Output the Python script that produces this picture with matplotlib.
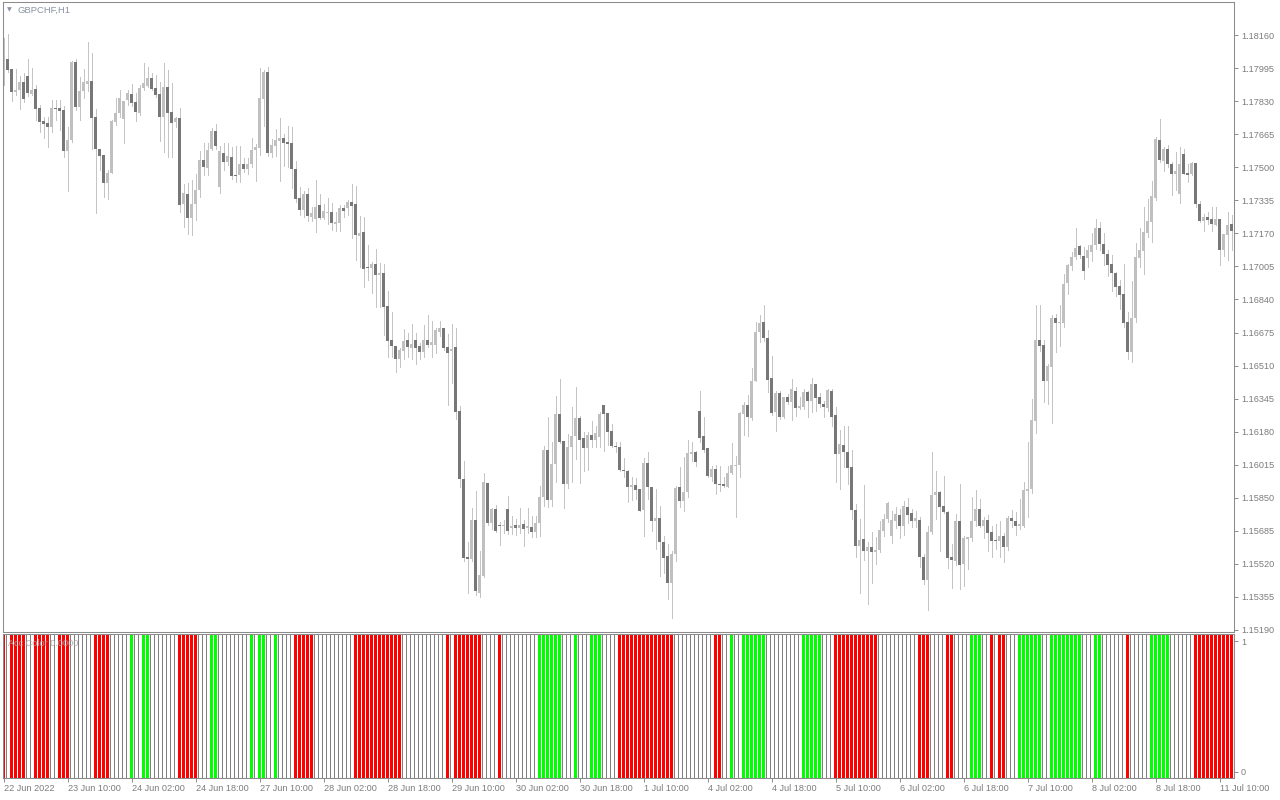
"""
GBPCHF H1 candles with the "Acc Color" signal histogram underneath,
drawn to look like the MetaTrader chart window.
"""
import numpy as np
import matplotlib
matplotlib.use("Agg")
import matplotlib.pyplot as plt

plt.rcParams["font.family"] = ["Liberation Sans", "DejaVu Sans"]

SYMBOL = "GBPCHF,H1"
IND_NAME = "Acc Color 0.0000"

# OHLC per hourly bar, 22 Jun 2022 18:00 .. 11 Jul 2022 13:00
OPEN = [
    1.18027, 1.18040, 1.17990, 1.17875, 1.17885, 1.17925, 1.17955, 1.17865, 1.17890, 1.17795,
    1.17730, 1.17720, 1.17702, 1.17795, 1.17795, 1.17785, 1.17582, 1.17635, 1.18027, 1.17802,
    1.17880, 1.17917, 1.17930, 1.17750, 1.17592, 1.17560, 1.17420, 1.17473, 1.17727, 1.17772,
    1.17742, 1.17835, 1.17865, 1.17825, 1.17772, 1.17895, 1.17908, 1.17945, 1.17895, 1.17865,
    1.17752, 1.17900, 1.17775, 1.17727, 1.17745, 1.17315, 1.17365, 1.17247, 1.17317, 1.17385,
    1.17535, 1.17498, 1.17592, 1.17680, 1.17402, 1.17572, 1.17527, 1.17552, 1.17460, 1.17462,
    1.17518, 1.17490, 1.17518, 1.17588, 1.17596, 1.17842, 1.17975, 1.17570, 1.17604, 1.17630,
    1.17648, 1.17625, 1.17620, 1.17493, 1.17346, 1.17289, 1.17366, 1.17250, 1.17240, 1.17310,
    1.17248, 1.17274, 1.17276, 1.17216, 1.17221, 1.17298, 1.17298, 1.17325, 1.17315, 1.17157,
    1.17176, 1.17002, 1.16999, 1.17015, 1.16964, 1.16971, 1.16806, 1.16640, 1.16609, 1.16542,
    1.16581, 1.16640, 1.16597, 1.16640, 1.16606, 1.16576, 1.16637, 1.16615, 1.16615, 1.16680,
    1.16697, 1.16602, 1.16581, 1.16602, 1.16282, 1.15946, 1.15553, 1.15542, 1.15737, 1.15375,
    1.15461, 1.15926, 1.15723, 1.15795, 1.15715, 1.15707, 1.15795, 1.15697, 1.15712, 1.15697,
    1.15718, 1.15697, 1.15705, 1.15677, 1.15722, 1.15855, 1.16090, 1.15838, 1.16018, 1.16267,
    1.16135, 1.15918, 1.16105, 1.16157, 1.16247, 1.16147, 1.16097, 1.16165, 1.16140, 1.16152,
    1.16315, 1.16273, 1.16185, 1.16110, 1.16102, 1.15990, 1.15985, 1.15905, 1.15915, 1.15893,
    1.15790, 1.16022, 1.15905, 1.15735, 1.15750, 1.15627, 1.15557, 1.15427, 1.15568, 1.15902,
    1.15835, 1.15877, 1.16068, 1.16077, 1.16282, 1.16160, 1.16097, 1.15955, 1.15993, 1.15918,
    1.15918, 1.15905, 1.15972, 1.16008, 1.16013, 1.16268, 1.16315, 1.16247, 1.16435, 1.16677,
    1.16730, 1.16650, 1.16448, 1.16277, 1.16375, 1.16255, 1.16355, 1.16327, 1.16385, 1.16297,
    1.16302, 1.16377, 1.16332, 1.16418, 1.16352, 1.16318, 1.16298, 1.16385, 1.16265, 1.16068,
    1.16115, 1.16080, 1.16002, 1.15790, 1.15607, 1.15643, 1.15582, 1.15605, 1.15577, 1.15588,
    1.15685, 1.15743, 1.15657, 1.15735, 1.15765, 1.15707, 1.15805, 1.15772, 1.15732, 1.15740,
    1.15555, 1.15440, 1.15677, 1.15863, 1.15880, 1.15808, 1.15780, 1.15552, 1.15532, 1.15735,
    1.15518, 1.15643, 1.15648, 1.15732, 1.15793, 1.15707, 1.15738, 1.15677, 1.15640, 1.15635,
    1.15660, 1.15602, 1.15748, 1.15732, 1.15710, 1.15710, 1.15885, 1.15893, 1.16235, 1.16638,
    1.16613, 1.16435, 1.16502, 1.16748, 1.16722, 1.16722, 1.16923, 1.17007, 1.17052, 1.17105,
    1.17057, 1.17045, 1.17077, 1.17110, 1.17195, 1.17118, 1.17068, 1.17018, 1.16972, 1.16905,
    1.16865, 1.16730, 1.16577, 1.16748, 1.17048, 1.17082, 1.17172, 1.17227, 1.17348, 1.17635,
    1.17532, 1.17593, 1.17518, 1.17468, 1.17368, 1.17565, 1.17472, 1.17468, 1.17522, 1.17318,
    1.17230, 1.17252, 1.17240, 1.17210, 1.17240, 1.17085, 1.17160, 1.17215,
]
HIGH = [
    1.18143, 1.18165, 1.17990, 1.17990, 1.17955, 1.17972, 1.18040, 1.17995, 1.17910, 1.17810,
    1.17752, 1.17752, 1.17835, 1.17835, 1.17835, 1.17808, 1.17700, 1.18032, 1.18040, 1.17952,
    1.17993, 1.18125, 1.18072, 1.17793, 1.17592, 1.17560, 1.17485, 1.17738, 1.17847, 1.17885,
    1.17832, 1.17885, 1.17915, 1.17872, 1.17910, 1.18018, 1.18002, 1.17973, 1.17960, 1.17927,
    1.18018, 1.17988, 1.17923, 1.17752, 1.17798, 1.17415, 1.17423, 1.17438, 1.17468, 1.17580,
    1.17623, 1.17623, 1.17697, 1.17718, 1.17605, 1.17623, 1.17622, 1.17602, 1.17607, 1.17605,
    1.17547, 1.17548, 1.17645, 1.17614, 1.17997, 1.17986, 1.18001, 1.17642, 1.17691, 1.17748,
    1.17665, 1.17708, 1.17699, 1.17532, 1.17403, 1.17381, 1.17395, 1.17300, 1.17436, 1.17367,
    1.17315, 1.17345, 1.17324, 1.17278, 1.17311, 1.17311, 1.17338, 1.17415, 1.17407, 1.17257,
    1.17252, 1.17114, 1.17025, 1.17093, 1.17020, 1.17015, 1.16881, 1.16778, 1.16609, 1.16597,
    1.16692, 1.16675, 1.16718, 1.16675, 1.16623, 1.16713, 1.16764, 1.16735, 1.16700, 1.16735,
    1.16697, 1.16669, 1.16718, 1.16700, 1.16310, 1.16033, 1.15628, 1.15801, 1.15886, 1.15582,
    1.15972, 1.15926, 1.15801, 1.15815, 1.15727, 1.15738, 1.15860, 1.15760, 1.15743, 1.15798,
    1.15740, 1.15798, 1.15760, 1.15757, 1.15910, 1.16110, 1.16252, 1.16130, 1.16357, 1.16445,
    1.16135, 1.16168, 1.16302, 1.16405, 1.16260, 1.16180, 1.16177, 1.16235, 1.16210, 1.16277,
    1.16315, 1.16273, 1.16218, 1.16127, 1.16127, 1.16048, 1.15990, 1.15952, 1.15948, 1.15893,
    1.16048, 1.16077, 1.15905, 1.15893, 1.15810, 1.15660, 1.15618, 1.15585, 1.15910, 1.16002,
    1.16055, 1.16138, 1.16127, 1.16085, 1.16382, 1.16255, 1.16097, 1.16010, 1.16015, 1.16010,
    1.15952, 1.16010, 1.16122, 1.16060, 1.16277, 1.16327, 1.16365, 1.16498, 1.16727, 1.16763,
    1.16813, 1.16688, 1.16560, 1.16382, 1.16385, 1.16355, 1.16368, 1.16443, 1.16402, 1.16355,
    1.16393, 1.16385, 1.16448, 1.16418, 1.16372, 1.16335, 1.16393, 1.16393, 1.16305, 1.16188,
    1.16210, 1.16210, 1.16088, 1.15818, 1.15743, 1.15913, 1.15630, 1.15680, 1.15652, 1.15735,
    1.15768, 1.15827, 1.15785, 1.15802, 1.15793, 1.15835, 1.15848, 1.15793, 1.15785, 1.15752,
    1.15568, 1.15710, 1.16080, 1.15985, 1.15885, 1.15960, 1.15785, 1.15618, 1.15768, 1.15918,
    1.15660, 1.15655, 1.15852, 1.15888, 1.15843, 1.15752, 1.15763, 1.15710, 1.15718, 1.15735,
    1.15672, 1.15760, 1.15788, 1.15777, 1.15843, 1.15930, 1.16130, 1.16343, 1.16813, 1.16813,
    1.16638, 1.16518, 1.16760, 1.16768, 1.16810, 1.16968, 1.17018, 1.17077, 1.17197, 1.17110,
    1.17102, 1.17110, 1.17172, 1.17240, 1.17227, 1.17172, 1.17085, 1.17060, 1.16977, 1.16935,
    1.17015, 1.16777, 1.16930, 1.17122, 1.17197, 1.17302, 1.17343, 1.17430, 1.17652, 1.17740,
    1.17602, 1.17610, 1.17527, 1.17577, 1.17602, 1.17593, 1.17518, 1.17527, 1.17522, 1.17332,
    1.17265, 1.17277, 1.17302, 1.17302, 1.17240, 1.17165, 1.17277, 1.17260,
]
LOW = [
    1.17910, 1.17977, 1.17832, 1.17860, 1.17790, 1.17827, 1.17855, 1.17860, 1.17735, 1.17677,
    1.17647, 1.17602, 1.17677, 1.17735, 1.17685, 1.17552, 1.17382, 1.17627, 1.17785, 1.17735,
    1.17848, 1.17880, 1.17593, 1.17272, 1.17485, 1.17352, 1.17343, 1.17473, 1.17710, 1.17752,
    1.17622, 1.17810, 1.17805, 1.17732, 1.17760, 1.17885, 1.17902, 1.17885, 1.17852, 1.17632,
    1.17577, 1.17552, 1.17552, 1.17700, 1.17277, 1.17202, 1.17168, 1.17160, 1.17235, 1.17352,
    1.17463, 1.17460, 1.17585, 1.17593, 1.17372, 1.17485, 1.17513, 1.17443, 1.17427, 1.17427,
    1.17477, 1.17468, 1.17501, 1.17429, 1.17562, 1.17708, 1.17557, 1.17549, 1.17557, 1.17433,
    1.17505, 1.17501, 1.17395, 1.17329, 1.17260, 1.17252, 1.17234, 1.17234, 1.17175, 1.17240,
    1.17240, 1.17217, 1.17185, 1.17180, 1.17180, 1.17252, 1.17260, 1.17149, 1.17036, 1.17002,
    1.16902, 1.16937, 1.16870, 1.16803, 1.16803, 1.16664, 1.16551, 1.16551, 1.16477, 1.16503,
    1.16545, 1.16555, 1.16545, 1.16516, 1.16542, 1.16555, 1.16602, 1.16555, 1.16571, 1.16659,
    1.16586, 1.16313, 1.16421, 1.16245, 1.15905, 1.15535, 1.15375, 1.15535, 1.15363, 1.15355,
    1.15453, 1.15714, 1.15693, 1.15677, 1.15615, 1.15672, 1.15668, 1.15668, 1.15665, 1.15672,
    1.15607, 1.15672, 1.15652, 1.15655, 1.15660, 1.15810, 1.15802, 1.15810, 1.15927, 1.16122,
    1.15798, 1.15898, 1.15927, 1.16043, 1.15922, 1.15985, 1.15990, 1.16102, 1.16102, 1.16102,
    1.16085, 1.16115, 1.16102, 1.16080, 1.15985, 1.15955, 1.15827, 1.15838, 1.15843, 1.15785,
    1.15657, 1.15843, 1.15682, 1.15593, 1.15460, 1.15477, 1.15343, 1.15252, 1.15535, 1.15802,
    1.15785, 1.15852, 1.16035, 1.16010, 1.16127, 1.16077, 1.15955, 1.15935, 1.15868, 1.15885,
    1.15902, 1.15902, 1.15968, 1.15752, 1.15952, 1.16165, 1.16160, 1.16238, 1.16432, 1.16627,
    1.16632, 1.16377, 1.16265, 1.16182, 1.16243, 1.16247, 1.16318, 1.16238, 1.16260, 1.16293,
    1.16293, 1.16252, 1.16277, 1.16285, 1.16302, 1.16255, 1.16285, 1.16210, 1.15927, 1.15893,
    1.16005, 1.15918, 1.15743, 1.15552, 1.15377, 1.15538, 1.15322, 1.15427, 1.15518, 1.15577,
    1.15660, 1.15727, 1.15623, 1.15698, 1.15648, 1.15665, 1.15723, 1.15705, 1.15702, 1.15505,
    1.15422, 1.15288, 1.15668, 1.15743, 1.15582, 1.15772, 1.15497, 1.15402, 1.15515, 1.15397,
    1.15410, 1.15493, 1.15635, 1.15710, 1.15702, 1.15648, 1.15582, 1.15555, 1.15593, 1.15555,
    1.15527, 1.15588, 1.15702, 1.15665, 1.15693, 1.15702, 1.15755, 1.15872, 1.16172, 1.16582,
    1.16327, 1.16318, 1.16222, 1.16577, 1.16610, 1.16702, 1.16868, 1.16988, 1.17043, 1.17048,
    1.16943, 1.17002, 1.17032, 1.17093, 1.17088, 1.17010, 1.16957, 1.16882, 1.16857, 1.16790,
    1.16705, 1.16543, 1.16527, 1.16727, 1.17002, 1.16965, 1.17152, 1.17127, 1.17335, 1.17527,
    1.17482, 1.17502, 1.17360, 1.17385, 1.17322, 1.17468, 1.17427, 1.17460, 1.17302, 1.17227,
    1.17182, 1.17218, 1.17182, 1.17210, 1.17010, 1.17057, 1.17035, 1.17085,
]
CLOSE = [
    1.18052, 1.17985, 1.17877, 1.17885, 1.17927, 1.17840, 1.17872, 1.17887, 1.17790, 1.17727,
    1.17717, 1.17702, 1.17795, 1.17792, 1.17782, 1.17582, 1.17635, 1.18027, 1.17802, 1.17882,
    1.17925, 1.17930, 1.17747, 1.17590, 1.17557, 1.17420, 1.17473, 1.17732, 1.17773, 1.17847,
    1.17832, 1.17870, 1.17822, 1.17775, 1.17898, 1.17920, 1.17945, 1.17890, 1.17862, 1.17752,
    1.17900, 1.17772, 1.17722, 1.17747, 1.17313, 1.17370, 1.17247, 1.17317, 1.17385, 1.17535,
    1.17502, 1.17585, 1.17682, 1.17605, 1.17580, 1.17527, 1.17555, 1.17457, 1.17457, 1.17518,
    1.17490, 1.17518, 1.17584, 1.17601, 1.17846, 1.17975, 1.17570, 1.17609, 1.17635, 1.17648,
    1.17622, 1.17617, 1.17491, 1.17340, 1.17289, 1.17366, 1.17257, 1.17271, 1.17300, 1.17247,
    1.17281, 1.17276, 1.17221, 1.17226, 1.17298, 1.17284, 1.17325, 1.17307, 1.17162, 1.17170,
    1.16992, 1.16999, 1.17015, 1.16964, 1.16973, 1.16803, 1.16632, 1.16606, 1.16545, 1.16586,
    1.16635, 1.16602, 1.16620, 1.16597, 1.16576, 1.16637, 1.16612, 1.16627, 1.16687, 1.16697,
    1.16597, 1.16571, 1.16592, 1.16279, 1.15943, 1.15551, 1.15542, 1.15737, 1.15383, 1.15465,
    1.15931, 1.15723, 1.15796, 1.15682, 1.15707, 1.15715, 1.15682, 1.15707, 1.15697, 1.15715,
    1.15692, 1.15707, 1.15677, 1.15725, 1.15855, 1.16090, 1.15838, 1.16018, 1.16267, 1.16130,
    1.15918, 1.16105, 1.16160, 1.16247, 1.16140, 1.16097, 1.16165, 1.16140, 1.16172, 1.16268,
    1.16268, 1.16177, 1.16110, 1.16102, 1.15990, 1.15982, 1.15905, 1.15915, 1.15890, 1.15785,
    1.16022, 1.15902, 1.15732, 1.15750, 1.15627, 1.15547, 1.15423, 1.15570, 1.15897, 1.15835,
    1.15880, 1.16072, 1.16077, 1.16027, 1.16147, 1.16090, 1.15960, 1.15993, 1.15918, 1.15913,
    1.15910, 1.15975, 1.16015, 1.16015, 1.16272, 1.16315, 1.16252, 1.16435, 1.16680, 1.16723,
    1.16647, 1.16440, 1.16272, 1.16372, 1.16255, 1.16355, 1.16327, 1.16393, 1.16298, 1.16307,
    1.16377, 1.16332, 1.16418, 1.16347, 1.16318, 1.16302, 1.16388, 1.16255, 1.16068, 1.16118,
    1.16077, 1.15997, 1.15788, 1.15607, 1.15640, 1.15585, 1.15605, 1.15577, 1.15588, 1.15690,
    1.15743, 1.15822, 1.15740, 1.15768, 1.15710, 1.15807, 1.15763, 1.15735, 1.15747, 1.15552,
    1.15440, 1.15677, 1.15865, 1.15880, 1.15805, 1.15777, 1.15547, 1.15538, 1.15735, 1.15515,
    1.15648, 1.15652, 1.15735, 1.15793, 1.15707, 1.15738, 1.15672, 1.15635, 1.15635, 1.15660,
    1.15602, 1.15748, 1.15732, 1.15710, 1.15718, 1.15888, 1.15893, 1.16238, 1.16638, 1.16607,
    1.16435, 1.16510, 1.16748, 1.16722, 1.16725, 1.16918, 1.17010, 1.17052, 1.17098, 1.17060,
    1.16982, 1.17085, 1.17112, 1.17195, 1.17115, 1.17065, 1.17010, 1.16972, 1.16902, 1.16860,
    1.16722, 1.16577, 1.16748, 1.17052, 1.17085, 1.17175, 1.17230, 1.17355, 1.17640, 1.17535,
    1.17593, 1.17518, 1.17468, 1.17482, 1.17515, 1.17468, 1.17463, 1.17522, 1.17318, 1.17232,
    1.17252, 1.17235, 1.17215, 1.17240, 1.17085, 1.17165, 1.17210, 1.17182,
]

# Acc Color state per bar: R = red (down), G = green (up), N = neutral
SIGNAL = (
    "RNRRRRNNRR" "RRNNRRRNNN" "NNNRRRRNNN" "NNGNNGGNNN" "NNNNRRRRRN"
    "NNGGNNNNNN" "NNGNGGNNGN" "NNNRRRRRNN" "NNNNNNNNRR" "RRRRRRRRRR"
    "NNNNNNNNNN" "NRNRRRRRRR" "NNNNRNNNNN" "NNNNGGGGGG" "NNNGNNNGGG"
    "NNNNRRRRRR" "RRRRRRRRNN" "NNNNNNNNRR" "NNGNNGGGGG" "GNNNNNNNNN"
    "GGGGGNNNRR" "RRRRRRRRRN" "NNNNNNNNNR" "RRNNNNRRNN" "NNGGGNNRNR"
    "RNNNGGGGGG" "NNGGGGGGGG" "NNNGGNNNNN" "NRNNNNNGGG" "GGNNNNNNRR"
    "RRRRRRRR"
)

PRICE_TICKS = [1.15190, 1.15355, 1.15520, 1.15685, 1.15850, 1.16015, 1.16180,
               1.16345, 1.16510, 1.16675, 1.16840, 1.17005, 1.17170, 1.17335,
               1.17500, 1.17665, 1.17830, 1.17995, 1.18160]
TIME_TICK_BARS = [0, 16, 32, 48, 64, 80, 96, 112, 128, 144,
                  160, 176, 192, 208, 224, 240, 256, 272, 288, 304]
TIME_LABELS = ["22 Jun 2022", "23 Jun 10:00", "24 Jun 02:00", "24 Jun 18:00",
               "27 Jun 10:00", "28 Jun 02:00", "28 Jun 18:00", "29 Jun 10:00",
               "30 Jun 02:00", "30 Jun 18:00", "1 Jul 10:00", "4 Jul 02:00",
               "4 Jul 18:00", "5 Jul 10:00", "6 Jul 02:00", "6 Jul 18:00",
               "7 Jul 10:00", "8 Jul 02:00", "8 Jul 18:00", "11 Jul 10:00"]

BULL, BEAR, WICK = "#c0c0c0", "#777777", "#c4c4c4"
FRAME, TXT, TITLE_C = "#8c8c8c", "#7c7c7c", "#8a94a2"
RED, GREEN, NEUTRAL = "#ff0000", "#00ff00", "#808080"

W, H = 1280, 800
fig = plt.figure(figsize=(W / 100, H / 100), dpi=100)
fig.patch.set_facecolor("white")

# main price window: px 2.5..1234 across, 2..632 down
ax = fig.add_axes([2.5 / W, (H - 632) / H, 1231.5 / W, 630 / H])
# indicator window: px 634..778 down
ax2 = fig.add_axes([2.5 / W, (H - 778) / H, 1231.5 / W, 144 / H], sharex=ax)

o, h, l, c = (np.array(v) for v in (OPEN, HIGH, LOW, CLOSE))
x = np.arange(len(c))
up = c >= o
lo = np.minimum(o, c)
hgt = np.maximum(np.abs(c - o), 0.00005)

ax.vlines(x, l, h, color=WICK, lw=0.5, antialiased=False, zorder=1)
ax.bar(x[up], hgt[up], 0.75, lo[up], color=BULL, lw=0, antialiased=False, zorder=2)
ax.bar(x[~up], hgt[~up], 0.75, lo[~up], color=BEAR, lw=0, antialiased=False, zorder=2)

ax.set_xlim(-0.25, 307.625)
ax.set_ylim(1.15180, 1.18325)
ax.yaxis.tick_right()
ax.set_yticks(PRICE_TICKS)
ax.set_yticklabels([f"{v:.5f}" for v in PRICE_TICKS])
ax.tick_params(axis="y", length=3, width=0.7, color=FRAME, labelcolor=TXT,
               labelsize=6.6, pad=2)
ax.tick_params(axis="x", bottom=False, labelbottom=False)

# signal histogram
sig = np.array(list(SIGNAL))
for key, col in (("R", RED), ("G", GREEN)):
    m = sig == key
    ax2.bar(x[m], np.ones(m.sum()), 0.75, 0, color=col, lw=0, antialiased=False)
m = sig == "N"
ax2.bar(x[m] - 0.25, np.ones(m.sum()), 0.25, 0, color=NEUTRAL, lw=0, antialiased=False)
ax2.set_ylim(0, 1)
ax2.yaxis.tick_right()
ax2.set_yticks([0.042, 0.951])
ax2.set_yticklabels(["0", "1"])
ax2.tick_params(axis="y", length=3, width=0.7, color=FRAME, labelcolor=TXT,
                labelsize=6.6, pad=2)
ax2.set_xticks(TIME_TICK_BARS)
ax2.set_xticklabels(TIME_LABELS)
for t in ax2.get_xticklabels():
    t.set_ha("left")
ax2.tick_params(axis="x", length=3, width=0.7, color=FRAME, labelcolor=TXT,
                labelsize=6.6, pad=1.5)
ax2.text(5 / 1231.5, 0.9375, IND_NAME, transform=ax2.transAxes, fontsize=6.6,
         color="#a8a8a8", va="center", ha="left", alpha=0.9)

for a in (ax, ax2):
    a.set_facecolor("white")
    for sp in a.spines.values():
        sp.set_color(FRAME)
        sp.set_linewidth(0.75)

fig.text(7 / W, 1 - 10 / H, "\u25bc", fontsize=4.5, color=TITLE_C, va="center", ha="left",
         family=["DejaVu Sans"])
fig.text(18 / W, 1 - 10 / H, SYMBOL, fontsize=6.8, color=TITLE_C, va="center", ha="left")

fig.savefig("out.png", dpi=100, facecolor="white")
